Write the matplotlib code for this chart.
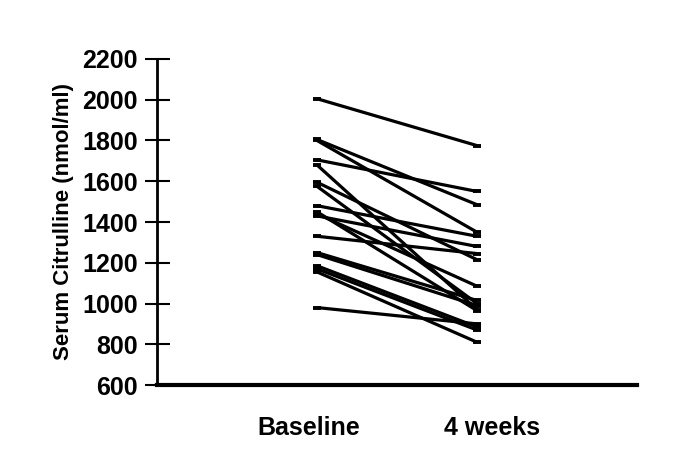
import matplotlib.pyplot as plt
from matplotlib import transforms
import numpy as np

plt.rcParams['font.family'] = ['Liberation Sans', 'DejaVu Sans']
plt.rcParams['font.weight'] = 'bold'

# tijdstippen
timepoints = ['Baseline', '4 weeks']

# citrulline per patient (nmol/ml)
baseline = [2005, 1805, 1800, 1705, 1680, 1595, 1575, 1480, 1450,
            1440, 1430, 1330, 1250, 1240, 1185, 1170, 1155, 980]
week4 = [1775, 1485, 1350, 1550, 970, 1215, 1000, 1330, 965,
         1085, 1280, 1245, 1015, 990, 885, 870, 810, 900]

yticks = [600, 800, 1000, 1200, 1400, 1600, 1800, 2000, 2200]

fig = plt.figure(figsize=(6.85, 4.73), dpi=100)
ax = fig.add_axes([157 / 685, 1 - 385 / 473, 480 / 685, 326 / 473])

xpos = np.arange(1, len(timepoints) + 1)
for b, w in zip(baseline, week4):
    ax.plot(xpos, [b, w], color='black', lw=2.3, marker='_', ms=6, mew=2.8,
            solid_capstyle='butt')

ax.set_xlim(0, 3)
ax.set_ylim(600, 2200)
ax.set_yticks(yticks)
ax.set_yticklabels([str(t) for t in yticks], fontsize=18, fontweight='bold')
ax.set_xticks(xpos)
ax.set_xticklabels(timepoints, fontsize=18, fontweight='bold')
ax.tick_params(axis='y', direction='inout', length=18, width=1.5, pad=5)
ax.tick_params(axis='x', length=0, pad=22)

# labels iets verschuiven zoals in het origineel
shifts = [-8, 15]
for lab, dx in zip(ax.get_xticklabels(), shifts):
    lab.set_transform(lab.get_transform() +
                      transforms.ScaledTranslation(dx / 100, 0, fig.dpi_scale_trans))

ax.set_ylabel('Serum Citrulline (nmol/ml)', fontsize=16, fontweight='bold', labelpad=6)

ax.spines['top'].set_visible(False)
ax.spines['right'].set_visible(False)
ax.spines['left'].set_linewidth(2)
ax.spines['bottom'].set_linewidth(3)

fig.savefig('out.png', dpi=100)
